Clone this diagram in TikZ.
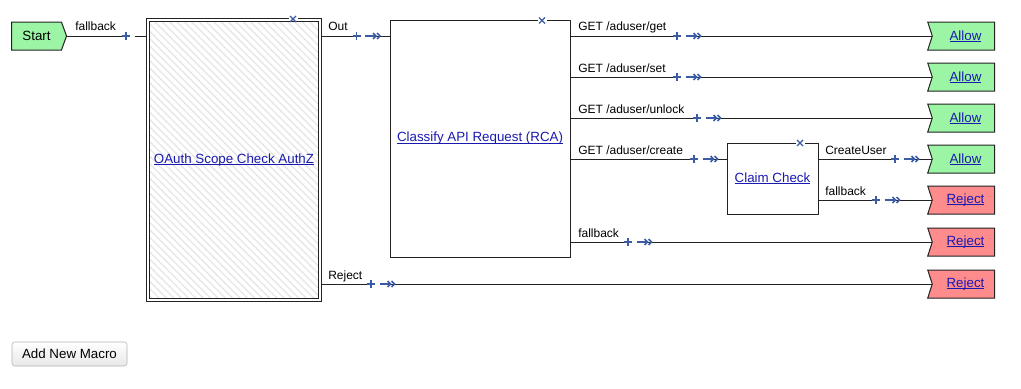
\documentclass[tikz,border=0pt]{standalone}
\usepackage{fontspec}
\setmainfont{Liberation Sans}
\usetikzlibrary{shapes.symbols,patterns.meta}

\definecolor{linkblue}{HTML}{1A1AB0}
\definecolor{portblue}{HTML}{3B5BA5}
\definecolor{allowgreen}{HTML}{9CF5A4}
\definecolor{rejectred}{HTML}{FF8C8C}
\definecolor{edgegray}{HTML}{222222}
\definecolor{hatchgray}{HTML}{E6E6E6}

% link text: underline drawn close to the baseline, adding no depth
\newcommand{\lnk}[1]{\setbox0\hbox{#1}\rlap{\rule[-1.2pt]{\wd0}{0.55pt}}\box0}
% terminal tag text, nudged right past the notch
\newcommand{\taglnk}[1]{\kern3pt\lnk{#1}}

\begin{document}
\begin{tikzpicture}[
  x=0.75pt, y=-0.75pt,
  font=\fontsize{9}{11}\selectfont,
  bigtext/.style={font=\fontsize{10}{12}\selectfont},
  wire/.style={draw=edgegray, line width=0.75pt},
  box/.style={draw=edgegray, line width=0.75pt, fill=white, inner sep=0pt, text=linkblue, bigtext},
  oauthbox/.style={draw=edgegray, line width=0.7pt, double=white, double distance=1.6pt,
    inner sep=0pt, text=linkblue, bigtext, minimum width=129.5pt, minimum height=209.5pt,
    pattern={Lines[angle=-45, distance=3.9pt, line width=1pt]}, pattern color=hatchgray},
  tagbase/.style={signal, draw=edgegray, line width=0.75pt, inner sep=0pt,
    minimum width=50.25pt, minimum height=21pt, text=linkblue, bigtext},
  allowtag/.style={tagbase, signal from=west, signal to=nowhere, signal pointer angle=144, fill=allowgreen},
  rejecttag/.style={tagbase, signal from=west, signal to=nowhere, signal pointer angle=144, fill=rejectred},
  starttag/.style={tagbase, signal to=east, signal pointer angle=140, fill=allowgreen,
    text=black, minimum width=41.25pt},
  lbl/.style={anchor=base west, inner sep=0pt, text=black},
  btn/.style={draw=gray!60, rounded corners=2pt, top color=white, bottom color=gray!18,
    inner sep=0pt, minimum width=86.25pt, minimum height=18pt, text=black, bigtext},
  plus/.pic={
    \fill[white] (4.2,-1.5) rectangle (8.5,1.5);
    \draw[portblue, line width=1.3pt] (-4,0) -- (4,0) (0,-4) -- (0,4);
  },
  chev/.pic={
    \draw[portblue, line width=0.9pt] (-12,0) -- (-1,0);
    \draw[portblue, line width=1.1pt] (-4,-3) -- (-1,0) -- (-4,3) (0,-3) -- (3,0) -- (0,3);
  },
  closemark/.pic={
    \fill[white] (-4.5,-2) rectangle (4.5,2);
    \draw[portblue, line width=1pt] (-3,-3) -- (3,3) (-3,3) -- (3,-3);
  }
]
\useasboundingbox (0,0) rectangle (1021,389);

% blocks
\node[starttag] (start) at (36.5,36) {Start};
\node[oauthbox] (oauth) at (234,160) {\lnk{OAuth Scope Check AuthZ}};
\node[box, minimum width=135pt, minimum height=177.75pt] (rca) at (480,138.5) {\lnk{Classify API Request (RCA)}};
\node[box, minimum width=68.25pt, minimum height=53.25pt] (claim) at (772.5,178.5) {\lnk{Claim Check}};

% terminal tags
\node[allowtag] (allowget) at (963.5,36) {\taglnk{Allow}};
\node[allowtag] (allowset) at (963.5,77) {\taglnk{Allow}};
\node[allowtag] (allowunlock) at (963.5,118) {\taglnk{Allow}};
\node[allowtag] (allowcreate) at (963.5,159) {\taglnk{Allow}};
\node[rejecttag] (rejectclaim) at (963.5,200) {\taglnk{Reject}};
\node[rejecttag] (rejectrca) at (963.5,242) {\taglnk{Reject}};
\node[rejecttag] (rejectauth) at (963.5,284) {\taglnk{Reject}};

% output ports
\coordinate (oauth-out) at (322,36);
\coordinate (oauth-rej) at (322,284);
\coordinate (rca-get) at (570,36);
\coordinate (rca-set) at (570,77);
\coordinate (rca-unlock) at (570,118);
\coordinate (rca-create) at (570,159);
\coordinate (rca-fb) at (570,242);
\coordinate (claim-ok) at (818,159);
\coordinate (claim-fb) at (818,200);

% connectors
\draw[wire] (start.east) -- (start.east -| oauth.west);
\draw[wire] (oauth-out) -- (oauth-out -| rca.west);
\draw[wire] (oauth-rej) -- (rejectauth.west);
\draw[wire] (rca-get) -- (allowget.west);
\draw[wire] (rca-set) -- (allowset.west);
\draw[wire] (rca-unlock) -- (allowunlock.west);
\draw[wire] (rca-create) -- (rca-create -| claim.west);
\draw[wire] (rca-fb) -- (rejectrca.west);
\draw[wire] (claim-ok) -- (allowcreate.west);
\draw[wire] (claim-fb) -- (rejectclaim.west);

% port labels
\node[lbl] (l-start) at (75,31) {fallback};
\node[lbl] (l-out) at (328,31) {Out};
\node[lbl] (l-rej) at (328,279) {Reject};
\node[lbl] (l-get) at (578,31) {GET /aduser/get};
\node[lbl] (l-set) at (578,72) {GET /aduser/set};
\node[lbl] (l-unlock) at (578,113) {GET /aduser/unlock};
\node[lbl] (l-create) at (578,154) {GET /aduser/create};
\node[lbl] (l-rcafb) at (578,237) {fallback};
\node[lbl] (l-cu) at (825,154) {CreateUser};
\node[lbl] (l-cfb) at (825,195) {fallback};

% port markers
\pic at (126,36) {plus};
\pic at (356.5,36) {plus};   \pic at (377,36) {chev};
\pic at (371,284) {plus};    \pic at (391.5,284) {chev};
\pic at (677,36) {plus};     \pic at (697.5,36) {chev};
\pic at (677,77) {plus};     \pic at (697.5,77) {chev};
\pic at (697,118) {plus};    \pic at (717.5,118) {chev};
\pic at (694,159) {plus};    \pic at (714.5,159) {chev};
\pic at (628,242) {plus};    \pic at (648.5,242) {chev};
\pic at (895,159) {plus};    \pic at (915.5,159) {chev};
\pic at (876,200) {plus};    \pic at (896.5,200) {chev};

% close marks on block borders
\pic at (293,19) {closemark};
\pic at (542,20.5) {closemark};
\pic at (800,143) {closemark};

% button
\node[btn] (macro) at (69.5,354) {Add New Macro};
\end{tikzpicture}
\end{document}
